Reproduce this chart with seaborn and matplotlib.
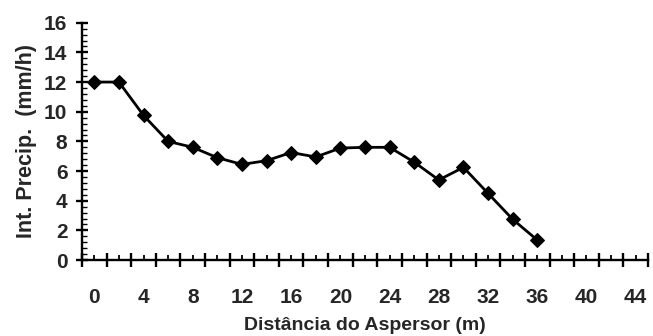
import matplotlib
matplotlib.use("Agg")
import matplotlib.pyplot as plt
import seaborn as sns
import pandas as pd
import numpy as np
from matplotlib.ticker import FixedLocator, FixedFormatter

distance = [0, 2, 4, 6, 8, 10, 12, 14, 16, 18, 20, 22, 24, 26, 28, 30, 32, 34, 36]
intensity = [12.0, 12.0, 9.75, 8.0, 7.6, 6.9, 6.45, 6.7, 7.25, 6.95, 7.55, 7.6, 7.6, 6.6, 5.4, 6.25, 4.5, 2.75, 1.35]
x_tick_values = [0, 4, 8, 12, 16, 20, 24, 28, 32, 36, 40, 44]
x_tick_labels = ["0", "4", "8", "12", "16", "20", "24", "28", "32", "36", "40", "44"]
y_tick_values = [0, 2, 4, 6, 8, 10, 12, 14, 16]

sns.set_style("ticks")
plt.rcParams["font.family"] = ["Liberation Sans", "DejaVu Sans"]
plt.rcParams["font.weight"] = "bold"

df = pd.DataFrame({"dist": distance, "prec": intensity})

fig = plt.figure(figsize=(6.53, 3.36), dpi=100)
ax = fig.add_axes([0.1256, 0.226, 0.8667, 0.7064])

sns.lineplot(data=df, x="dist", y="prec", ax=ax, color="black", linewidth=2.0,
             marker="D", markersize=7.5, markeredgecolor="black", markerfacecolor="black")

ax.set_xlim(-1, 45)
ax.set_ylim(0, 16)

# category boundaries (major) and category centres (minor)
ax.xaxis.set_major_locator(FixedLocator(np.arange(-1, 46, 2)))
ax.xaxis.set_major_formatter(FixedFormatter([""] * 24))
centres = np.arange(0, 45, 2)
ax.xaxis.set_minor_locator(FixedLocator(centres))
ax.xaxis.set_minor_formatter(FixedFormatter([
    x_tick_labels[x_tick_values.index(c)] if c in x_tick_values else "" for c in centres]))

ax.yaxis.set_major_locator(FixedLocator(y_tick_values))
ax.yaxis.set_minor_locator(FixedLocator(np.arange(0, 16.01, 0.4)))

for sp in ["top", "right"]:
    ax.spines[sp].set_visible(False)
for sp in ["left", "bottom"]:
    ax.spines[sp].set_linewidth(1.7)
    ax.spines[sp].set_color("black")

ax.tick_params(axis="x", which="major", direction="inout", length=10, width=1.7, color="black")
ax.tick_params(axis="x", which="minor", direction="in", length=3.5, width=1.3, color="black",
               labelsize=15, pad=20)
ax.tick_params(axis="y", which="major", direction="inout", length=9, width=1.7, color="black",
               labelsize=15, pad=6)
ax.tick_params(axis="y", which="minor", direction="in", length=3.5, width=1.0, color="black")

for lab in ax.get_xticklabels(which="minor") + ax.get_yticklabels():
    lab.set_fontweight("bold")

ax.set_xlabel("Distância do Aspersor (m)", fontsize=14, fontweight="bold", labelpad=7)
ax.set_ylabel("Int. Precip.  (mm/h)", fontsize=15.5, fontweight="bold", labelpad=5)

fig.savefig("out.png", dpi=100)
